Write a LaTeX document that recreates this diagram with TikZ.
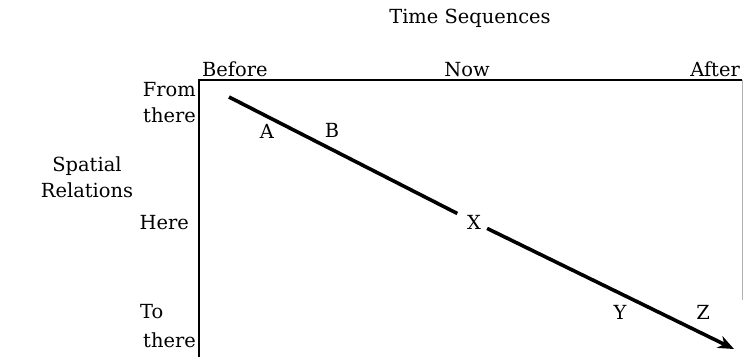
\documentclass[tikz,border=0pt]{standalone}
\usepackage{fontspec}
\setmainfont{DejaVu Serif}
\usepackage{tikz}
\usetikzlibrary{arrows.meta}

\begin{document}
\begin{tikzpicture}[x=1bp, y=-1bp,
    lbl/.style={font=\fontsize{19.5}{26}\selectfont, inner sep=1bp},
    side/.style={lbl, anchor=east, align=right},
    pt/.style={lbl, inner sep=6bp},
    frame/.style={line width=2.6bp},
    path/.style={line width=3.6bp},
    arr/.style={path, -{Stealth[length=16bp, width=13bp]}}
]
\useasboundingbox (0,0) rectangle (747,357);

% axes titles
\node[lbl] (time)  at (470,18)  {Time Sequences};
\node[lbl, align=center] (space) at (87,177) {Spatial\\Relations};

% frame
\coordinate (tl) at (199,80);
\coordinate (tr) at (742,80);
\coordinate (bl) at (199,357);
\coordinate (br) at (742,300);
\draw[frame] (bl) -- (tl) -- (tr);
\draw[gray!60, line width=0.8bp] (tr) -- (br);

% time labels
\node[lbl, anchor=south west] (before) at (201,78) {Before};
\node[lbl, anchor=south]      (now)    at (467,78) {Now};
\node[lbl, anchor=south east] (after)  at (741,78) {After};

% space labels
\node[side] (from)  at (197,90)  {From};
\node[side] (there) at (197,115) {there};
\node[side] (here)  at (190,223) {Here};
\node[lbl, anchor=west] (to) at (139,312) {To};
\node[side] (there2) at (197,340) {there};

% events
\node[lbl] (a) at (267,131) {A};
\node[lbl] (b) at (332,130) {B};
\node[pt]  (x) at (474,222) {X};
\node[lbl] (y) at (620,312) {Y};
\node[lbl] (z) at (703,312) {Z};

\coordinate (start) at (229,97);
\coordinate (end)   at (734,349);
\draw[path, shorten >=4bp] (start) -- (x);
\draw[arr] (x) -- (end);

\end{tikzpicture}
\end{document}
